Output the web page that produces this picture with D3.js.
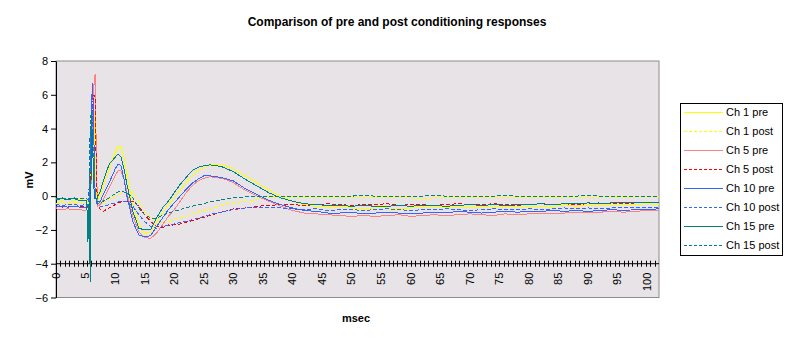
<!DOCTYPE html>
<html>
<head>
<meta charset="utf-8">
<script src="https://cdn.jsdelivr.net/npm/d3@7"></script>
<style>
  body { margin: 0; background: #fff; }
  svg { display: block; font-family: Arial, "Liberation Sans", sans-serif; }
</style>
</head>
<body>
<svg id="chart" width="792" height="345"></svg>
<script>
// time base in msec
const time = [
  0, 1, 2, 3, 4, 5,
  5.2, 5.4, 5.6, 5.8, 6, 6.2, 6.4, 6.6, 6.8, 7,
  7.5, 8, 9, 10, 10.5, 11, 11.5, 12,
  13, 14, 15, 16, 17, 18, 19, 20, 21, 22, 23, 24, 25, 26, 27, 28, 29, 30,
  32, 34, 36, 38,
  40, 42, 44, 46, 48, 50, 52, 54, 56, 58, 60, 62, 64, 66, 68, 70,
  72, 74, 76, 78, 80, 82, 84, 86, 88, 90, 92, 94, 96, 98, 100, 102
];

// responses in mV
const ch1Pre = [
  -0.2, -0.25, -0.2, -0.25, -0.2, -0.25,
  -0.25, -0.3, -0.2, 1.0, 3.5, 5.3, 5.0, 2.5, 0.5, -0.3,
  0.1, 0.6, 1.6, 2.6, 2.95, 2.9, 2.3, 1.3,
  -0.5, -1.7, -2.2, -2.15, -1.6, -1.0, -0.5, -0.1, 0.35, 0.8, 1.2, 1.5, 1.7, 1.85, 1.9, 1.85, 1.75, 1.6,
  1.2, 0.8, 0.35, 0.0,
  -0.3, -0.5, -0.6, -0.65, -0.7, -0.7, -0.75, -0.7, -0.7, -0.75, -0.7, -0.65, -0.7, -0.7, -0.65, -0.7,
  -0.65, -0.6, -0.65, -0.6, -0.6, -0.65, -0.6, -0.55, -0.6, -0.55, -0.5, -0.55, -0.5, -0.5, -0.45, -0.5
];
const ch1Post = [
  -0.45, -0.4, -0.45, -0.4, -0.45, -0.4,
  -0.45, -0.45, -0.4, -0.2, 2.0, 4.0, 5.0, 4.5, 1.5, -0.3,
  -0.5, -0.4, -0.2, 0.0, 0.1, 0.15, 0.2, 0.2,
  0.25, -0.3, -0.9, -1.3, -1.5, -1.6, -1.5, -1.4, -1.3, -1.2, -1.05, -0.95, -0.85, -0.75, -0.65, -0.55, -0.45, -0.4,
  -0.3, -0.2, -0.1, -0.05,
  -0.05, -0.1, -0.05, -0.1, -0.1, -0.05, -0.1, -0.1, -0.05, -0.1, -0.1, -0.15, -0.1, -0.1, -0.05, -0.1,
  -0.1, -0.05, -0.1, -0.1, -0.1, -0.05, -0.1, -0.05, -0.1, -0.1, -0.05, -0.05, -0.1, -0.05, -0.05, -0.05
];
const ch5Pre = [
  -0.75, -0.8, -0.75, -0.8, -0.8, -0.85,
  -0.8, -0.85, -0.8, -0.5, 1.5, 4.5, 6.5, 7.2, 3.0, -0.6,
  -0.5, -0.2, 0.5, 1.2, 1.5, 1.5, 1.0, 0.2,
  -1.2, -2.1, -2.45, -2.5, -2.2, -1.7, -1.2, -0.8, -0.3, 0.2, 0.6, 0.9, 1.05, 1.15, 1.1, 1.05, 0.95, 0.8,
  0.35, 0.0, -0.3, -0.6,
  -0.85, -1.0, -1.05, -1.1, -1.15, -1.2, -1.15, -1.2, -1.15, -1.1, -1.2, -1.15, -1.1, -1.15, -1.1, -1.05,
  -1.1, -1.15, -1.05, -1.1, -1.05, -1.0, -1.05, -1.0, -0.95, -1.0, -0.95, -0.9, -0.95, -0.9, -0.85, -0.85
];
const ch5Post = [
  -0.6, -0.65, -0.6, -0.6, -0.65, -0.6,
  -0.6, -0.65, -0.6, 0.5, 3.0, 5.5, 6.0, 5.8, 2.0, -0.5,
  -0.8, -0.9, -0.7, -0.5, -0.4, -0.35, -0.3, -0.3,
  -0.3, -0.6, -1.1, -1.5, -1.8, -1.85, -1.75, -1.7, -1.65, -1.55, -1.45, -1.35, -1.25, -1.15, -1.05, -0.95, -0.85, -0.75,
  -0.7, -0.6, -0.55, -0.5,
  -0.5, -0.55, -0.5, -0.45, -0.5, -0.55, -0.5, -0.5, -0.45, -0.55, -0.5, -0.5, -0.55, -0.5, -0.45, -0.5,
  -0.5, -0.45, -0.5, -0.55, -0.5, -0.45, -0.5, -0.45, -0.5, -0.45, -0.4, -0.45, -0.45, -0.4, -0.4, -0.4
];
const ch10Pre = [
  -0.65, -0.6, -0.65, -0.6, -0.65, -0.7,
  -0.65, -0.7, -0.5, 2.0, 5.5, 6.7, 3.5, 0.5, -0.3, -0.5,
  -0.3, 0.1, 0.8, 1.6, 1.9, 1.8, 1.0, 0.0,
  -1.5, -2.3, -2.4, -2.35, -1.8, -1.3, -0.8, -0.4, 0.0, 0.4, 0.75, 1.0, 1.2, 1.2, 1.15, 1.1, 1.0, 0.9,
  0.45, 0.1, -0.25, -0.5,
  -0.7, -0.85, -0.9, -1.0, -1.0, -0.95, -1.05, -1.0, -0.95, -1.0, -1.05, -1.0, -0.95, -1.0, -0.9, -0.95,
  -1.0, -0.95, -0.9, -0.95, -0.9, -0.9, -0.85, -0.9, -0.85, -0.9, -0.85, -0.8, -0.85, -0.8, -0.8, -0.75
];
const ch10Post = [
  -0.5, -0.55, -0.5, -0.5, -0.55, -0.5,
  -0.5, -0.55, 0.5, 3.0, 5.9, 5.0, 2.0, 0.0, -0.3, -0.4,
  -0.6, -0.6, -0.5, -0.4, -0.35, -0.3, -0.3, -0.35,
  -0.6, -1.1, -1.5, -1.8, -1.9, -1.8, -1.7, -1.65, -1.55, -1.5, -1.4, -1.3, -1.2, -1.1, -1.0, -0.95, -0.85, -0.8,
  -0.7, -0.65, -0.65, -0.7,
  -0.75, -0.8, -0.75, -0.85, -0.8, -0.8, -0.85, -0.8, -0.75, -0.8, -0.85, -0.8, -0.8, -0.75, -0.8, -0.85,
  -0.8, -0.75, -0.8, -0.8, -0.75, -0.8, -0.75, -0.7, -0.75, -0.7, -0.75, -0.7, -0.65, -0.7, -0.65, -0.65
];
const ch15Pre = [
  -0.2, -0.15, -0.2, -0.15, -0.25, -0.25,
  -0.25, -2.7, -0.3, -5.1, 4.8, 3.0, 0.5, -0.1, -0.2, -0.1,
  0.3, 0.9, 1.9, 2.3, 2.5, 2.3, 1.6, 0.7,
  -0.9, -1.9, -2.0, -2.0, -1.3, -0.7, -0.3, 0.2, 0.7, 1.1, 1.5, 1.7, 1.8, 1.85, 1.8, 1.75, 1.6, 1.45,
  1.0, 0.6, 0.2, -0.1,
  -0.3, -0.45, -0.5, -0.55, -0.55, -0.6, -0.55, -0.6, -0.6, -0.55, -0.6, -0.55, -0.55, -0.6, -0.55, -0.5,
  -0.55, -0.5, -0.55, -0.5, -0.5, -0.45, -0.5, -0.45, -0.45, -0.4, -0.45, -0.4, -0.4, -0.35, -0.4, -0.35
];
const ch15Post = [
  -0.15, -0.1, -0.15, -0.1, -0.15, -0.15,
  -0.15, -0.2, 0.5, 4.5, 5.0, 3.0, 0.5, -0.2, -0.3, -0.3,
  -0.4, -0.3, -0.1, 0.15, 0.25, 0.3, 0.25, 0.2,
  -0.1, -0.7, -1.1, -1.3, -1.3, -1.15, -1.0, -0.9, -0.8, -0.7, -0.6, -0.5, -0.45, -0.35, -0.3, -0.2, -0.15, -0.1,
  -0.05, 0.0, 0.0, 0.0,
  0.0, -0.05, 0.0, 0.0, -0.05, 0.0, 0.05, 0.0, 0.0, -0.05, 0.0, 0.0, 0.05, 0.0, 0.0, -0.05,
  0.0, 0.0, 0.05, 0.0, 0.0, 0.0, -0.05, 0.0, 0.0, 0.05, 0.0, 0.0, -0.05, 0.0, 0.0, 0.0
];

const seriesNames = ["Ch 1 pre", "Ch 1 post", "Ch 5 pre", "Ch 5 post", "Ch 10 pre", "Ch 10 post", "Ch 15 pre", "Ch 15 post"];
const seriesValues = [ch1Pre, ch1Post, ch5Pre, ch5Post, ch10Pre, ch10Post, ch15Pre, ch15Post];
const seriesColors = ["#ffff00", "#ffff00", "#ff8080", "#ff0000", "#3366ff", "#3366ff", "#008080", "#008080"];
const seriesDashed = [false, true, false, true, false, true, false, true];

const yTicks = [-6, -4, -2, 0, 2, 4, 6, 8];
const xLabels = [0, 5, 10, 15, 20, 25, 30, 35, 40, 45, 50, 55, 60, 65, 70, 75, 80, 85, 90, 95, 100];

const series = seriesNames.map((name, i) => ({
  name: name,
  values: seriesValues[i],
  color: seriesColors[i],
  dashed: seriesDashed[i]
}));

const svg = d3.select("#chart");

const plot = { left: 56, right: 659, top: 61, bottom: 297.5 };

const x = d3.scaleLinear().domain([0, 102]).range([plot.left, plot.right]);
const y = d3.scaleLinear().domain([-6, 8]).range([plot.bottom, plot.top]);

// title
svg.append("text")
  .attr("x", 397)
  .attr("y", 26)
  .attr("text-anchor", "middle")
  .style("font-size", "12px")
  .style("font-weight", "bold")
  .text("Comparison of pre and post conditioning responses");

// plot area
svg.append("rect")
  .attr("x", plot.left)
  .attr("y", plot.top)
  .attr("width", plot.right - plot.left)
  .attr("height", plot.bottom - plot.top)
  .attr("fill", "#e7e3e7")
  .attr("stroke", "#8c8c8c")
  .attr("stroke-width", 1);

const clip = svg.append("defs").append("clipPath").attr("id", "plotClip");
clip.append("rect")
  .attr("x", plot.left)
  .attr("y", plot.top)
  .attr("width", plot.right - plot.left)
  .attr("height", plot.bottom - plot.top);

// y axis
const yAxis = svg.append("g")
  .attr("transform", `translate(${plot.left},0)`)
  .call(d3.axisLeft(y).tickValues(yTicks).tickSize(5).tickSizeOuter(0).tickFormat(d3.format("d")));
yAxis.select(".domain").attr("stroke", "#000");
yAxis.selectAll("text")
  .attr("x", -8)
  .style("font-size", "11px")
  .style("font-family", "Arial, 'Liberation Sans', sans-serif");

// x axis sits on -4 with small crossing ticks
const xAxisY = y(-4);
const xAxis = svg.append("g").attr("transform", `translate(0,${xAxisY})`);
xAxis.append("line")
  .attr("x1", plot.left).attr("x2", plot.right)
  .attr("stroke", "#000");
xAxis.selectAll("line.minor")
  .data(d3.range(0, 102, 0.75))
  .enter()
  .append("line")
  .attr("class", "minor")
  .attr("x1", d => Math.round(x(d)) + 0.5)
  .attr("x2", d => Math.round(x(d)) + 0.5)
  .attr("y1", -3)
  .attr("y2", 3)
  .attr("stroke", "#000");
xAxis.selectAll("text")
  .data(xLabels)
  .enter()
  .append("text")
  .attr("transform", d => `translate(${x(d)},9) rotate(-90)`)
  .attr("text-anchor", "end")
  .attr("dy", "0.35em")
  .style("font-size", "11px")
  .text(d => d);

// axis titles
svg.append("text")
  .attr("transform", "translate(33,180) rotate(-90)")
  .attr("text-anchor", "middle")
  .style("font-size", "11px")
  .style("font-weight", "bold")
  .text("mV");

svg.append("text")
  .attr("x", 356)
  .attr("y", 322)
  .attr("text-anchor", "middle")
  .style("font-size", "11px")
  .style("font-weight", "bold")
  .text("msec");

// traces
const line = d3.line()
  .x((d, i) => x(time[i]))
  .y(d => y(d));

svg.append("g")
  .attr("clip-path", "url(#plotClip)")
  .selectAll("path")
  .data(series)
  .enter()
  .append("path")
  .attr("d", d => line(d.values))
  .attr("fill", "none")
  .attr("stroke", d => d.color)
  .attr("stroke-width", 1)
  .attr("shape-rendering", "crispEdges")
  .attr("stroke-dasharray", d => d.dashed ? "4,2" : null);

// legend
const legend = svg.append("g");
legend.append("rect")
  .attr("x", 680.5)
  .attr("y", 103.5)
  .attr("width", 102)
  .attr("height", 152)
  .attr("fill", "#fff")
  .attr("stroke", "#000");

const item = legend.selectAll("g.item")
  .data(series)
  .enter()
  .append("g")
  .attr("class", "item")
  .attr("transform", (d, i) => `translate(0,${112.5 + i * 19})`);

item.append("line")
  .attr("x1", 684).attr("x2", 723)
  .attr("stroke", d => d.color)
  .attr("stroke-width", 1)
  .attr("shape-rendering", "crispEdges")
  .attr("stroke-dasharray", d => d.dashed ? "3,2" : null);

item.append("text")
  .attr("x", 726)
  .attr("dy", "0.35em")
  .style("font-size", "11px")
  .text(d => d.name);
</script>
</body>
</html>
